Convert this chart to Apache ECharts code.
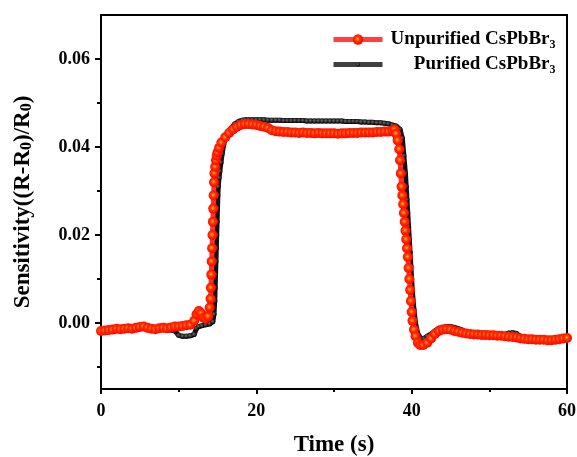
<!DOCTYPE html>
<html>
<head>
<meta charset="utf-8">
<script src="https://cdn.jsdelivr.net/npm/echarts@6/dist/echarts.min.js"></script>
<style>html,body{margin:0;padding:0;background:#fff;}#c{width:577px;height:457px;}</style>
</head>
<body>
<div id="c"></div>
<script>
// Unpurified CsPbBr3 (red)
const redT = [0,0.5,1,1.5,2,2.5,3,3.5,4,4.5,5,5.5,6,6.5,7,7.5,8,8.5,9,9.5,10,10.5,11,11.5,12,12.3,12.6,12.9,13.2,13.5,13.8,14.0,14.1,14.15,14.2,14.25,14.3,14.35,14.4,14.45,14.5,14.55,14.6,14.7,14.8,14.9,15.0,15.2,15.5,16,16.5,17,17.5,18,18.5,19,19.5,20,20.5,21,21.5,22,22.5,23,23.5,24,24.5,25,25.5,26,26.5,27,27.5,28,28.5,29,29.5,30,30.5,31,31.5,32,32.5,33,33.5,34,34.5,35,35.5,36,36.5,37,37.5,37.8,38.0,38.2,38.4,38.5,38.6,38.7,38.8,38.9,39.0,39.1,39.2,39.3,39.4,39.5,39.6,39.7,39.8,39.9,40.0,40.1,40.3,40.5,40.8,41.1,41.5,42,42.5,43,43.5,44,44.5,45,45.5,46,46.5,47,47.5,48,48.5,49,49.5,50,50.5,51,51.5,52,52.5,53,53.5,54,54.5,55,55.5,56,56.5,57,57.5,58,58.5,59,59.5,60];
const redV = [-0.0018,-0.0017,-0.0016,-0.0015,-0.0013,-0.0014,-0.0013,-0.0012,-0.0013,-0.0011,-0.0009,-0.0008,-0.0011,-0.0013,-0.0014,-0.0012,-0.0011,-0.0012,-0.0010,-0.0008,-0.0008,-0.0007,-0.0005,-0.0004,0.0005,0.0020,0.0027,0.0022,0.0012,0.0010,0.0015,0.0035,0.0055,0.0080,0.0110,0.0140,0.0170,0.0200,0.0230,0.0260,0.0290,0.0320,0.0340,0.0355,0.0370,0.0380,0.0388,0.0398,0.0410,0.0422,0.0432,0.0440,0.0446,0.0450,0.0452,0.0452,0.0451,0.0450,0.0448,0.0446,0.0443,0.0438,0.0436,0.0435,0.0434,0.0434,0.0433,0.0433,0.0432,0.0433,0.0432,0.0432,0.0431,0.0432,0.0431,0.0431,0.0431,0.0431,0.0430,0.0431,0.0431,0.0432,0.0432,0.0432,0.0433,0.0433,0.0433,0.0433,0.0434,0.0434,0.0435,0.0435,0.0437,0.0440,0.0430,0.0415,0.0395,0.0370,0.0340,0.0310,0.0290,0.0270,0.0250,0.0230,0.0210,0.0190,0.0170,0.0150,0.0125,0.0100,0.0075,0.0050,0.0025,0.0005,-0.0015,-0.0030,-0.0045,-0.0050,-0.0050,-0.0045,-0.0035,-0.0025,-0.0018,-0.0015,-0.0014,-0.0015,-0.0018,-0.0020,-0.0022,-0.0024,-0.0025,-0.0026,-0.0026,-0.0027,-0.0027,-0.0028,-0.0028,-0.0029,-0.0029,-0.0030,-0.0031,-0.0032,-0.0033,-0.0035,-0.0036,-0.0037,-0.0037,-0.0038,-0.0038,-0.0038,-0.0039,-0.0039,-0.0038,-0.0037,-0.0035,-0.0034];
// Purified CsPbBr3 (black)
const blackT = [0,0.5,1,1.5,2,2.5,3,3.5,4,4.5,5,5.5,6,6.5,7,7.5,8,8.5,9,9.5,10,10.5,11,11.5,12,12.3,12.6,13,13.5,14,14.4,14.55,14.65,14.7,14.75,14.8,14.85,14.9,14.95,15.0,15.05,15.1,15.2,15.3,15.45,15.6,15.8,16.0,16.3,16.7,17.2,17.7,18.2,18.6,19,19.5,20,20.5,21,21.5,22,22.5,23,23.5,24,24.5,25,25.5,26,26.5,27,27.5,28,28.5,29,29.5,30,30.5,31,31.5,32,32.5,33,33.5,34,34.5,35,35.5,36,36.5,37,37.5,38,38.5,38.8,39.0,39.2,39.3,39.4,39.5,39.6,39.7,39.8,39.9,40.0,40.1,40.3,40.5,40.8,41.2,41.6,42,42.5,43,43.5,44,44.5,45,45.5,46,46.5,47,47.5,48,48.5,49,49.5,50,50.5,51,51.5,52,52.5,53,53.5,54,54.5,55,55.5,56,56.5,57,57.5,58,58.5,59,59.5,60];
const blackV = [-0.0015,-0.0014,-0.0013,-0.0013,-0.0012,-0.0013,-0.0013,-0.0014,-0.0014,-0.0012,-0.0011,-0.0012,-0.0013,-0.0015,-0.0016,-0.0015,-0.0015,-0.0016,-0.0016,-0.0018,-0.0028,-0.0030,-0.0030,-0.0029,-0.0026,-0.0012,-0.0008,-0.0006,-0.0004,-0.0002,0.0003,0.0020,0.0050,0.0080,0.0110,0.0140,0.0170,0.0200,0.0230,0.0260,0.0290,0.0310,0.0330,0.0345,0.0365,0.0385,0.0405,0.0420,0.0432,0.0442,0.0452,0.0458,0.0461,0.0462,0.0462,0.0462,0.0462,0.0462,0.0462,0.0461,0.0461,0.0461,0.0461,0.0460,0.0460,0.0460,0.0460,0.0460,0.0460,0.0459,0.0459,0.0459,0.0459,0.0459,0.0459,0.0459,0.0459,0.0459,0.0459,0.0458,0.0458,0.0458,0.0458,0.0457,0.0457,0.0456,0.0456,0.0455,0.0455,0.0454,0.0453,0.0450,0.0448,0.0440,0.0420,0.0380,0.0340,0.0310,0.0280,0.0250,0.0220,0.0190,0.0160,0.0130,0.0100,0.0070,0.0030,0.0000,-0.0025,-0.0035,-0.0035,-0.0030,-0.0025,-0.0018,-0.0012,-0.0010,-0.0008,-0.0008,-0.0010,-0.0013,-0.0016,-0.0020,-0.0022,-0.0024,-0.0025,-0.0026,-0.0027,-0.0027,-0.0027,-0.0027,-0.0027,-0.0026,-0.0023,-0.0022,-0.0024,-0.0030,-0.0032,-0.0034,-0.0035,-0.0036,-0.0037,-0.0037,-0.0038,-0.0038,-0.0038,-0.0037,-0.0036,-0.0035];
const xTicks = [0, 20, 40, 60];
const yLabels = [0, 0.02, 0.04, 0.06];
const yMinor = [-0.01, 0.01, 0.03, 0.05];

const FF = '"Liberation Serif","Times New Roman",serif';
const redData = redT.map((t, i) => [t, redV[i]]);
const blackData = blackT.map((t, i) => [t, blackV[i]]);

const redFill = new echarts.graphic.RadialGradient(0.45, 0.45, 0.55, [
  {offset: 0, color: '#ffb030'}, {offset: 0.45, color: '#ff3000'}, {offset: 1, color: '#ff0000'}]);
const blackFill = new echarts.graphic.RadialGradient(0.4, 0.4, 0.6, [
  {offset: 0, color: '#6a6a6a'}, {offset: 1, color: '#000'}]);

const chart = echarts.init(document.getElementById('c'), null, {renderer: 'canvas'});
const subRich = {
  b: {fontFamily: FF, fontWeight: 'bold', fontSize: 19, color: '#000', align: 'right'},
  s: {fontFamily: FF, fontWeight: 'bold', fontSize: 12, color: '#000', padding: [11, 0, 0, 0], align: 'right'}
};
const legendBase = {
  orient: 'vertical', left: 331, padding: 0,
  itemWidth: 49, itemGap: 5,
  formatter: function (n) { return '{b|' + n.slice(0, -1) + '}{s|3}'; },
  textStyle: {width: 168, align: 'right', rich: subRich}
};
chart.setOption({
  animation: false,
  backgroundColor: '#fff',
  grid: {left: 101, right: 10, top: 15, bottom: 68, show: true, borderColor: '#000', borderWidth: 2,
    containLabel: false, outerBoundsMode: 'none'},
  legend: [
    Object.assign({}, legendBase, {top: 30, itemHeight: 13, data: ['Unpurified CsPbBr3'],
      lineStyle: {width: 5, color: '#ff4040'}}),
    Object.assign({}, legendBase, {top: 55, itemHeight: 5, data: ['Purified CsPbBr3'],
      lineStyle: {width: 5, color: '#404040'}})
  ],
  xAxis: {
    type: 'value', min: 0, max: 60, interval: 20,
    name: 'Time (s)', nameLocation: 'middle', nameGap: 45,
    nameTextStyle: {fontFamily: FF, fontWeight: 'bold', fontSize: 23, color: '#000'},
    axisLine: {show: true, onZero: false, lineStyle: {color: '#000', width: 2}},
    axisTick: {show: true, inside: false, length: 5, lineStyle: {color: '#000', width: 2}},
    minorTick: {show: true, splitNumber: 2, length: 3, lineStyle: {color: '#000', width: 2}},
    axisLabel: {fontFamily: FF, fontWeight: 'bold', fontSize: 18, color: '#000', margin: 13,
      customValues: xTicks},
    splitLine: {show: false}
  },
  yAxis: [{
    type: 'value', min: -0.015, max: 0.07,
    name: '{a|Sensitivity((R-R}{s|0}{a|)/R}{s|0}{a|)}', nameLocation: 'middle', nameGap: 66,
    nameTextStyle: {rich: {
      a: {fontFamily: FF, fontWeight: 'bold', fontSize: 23, color: '#000'},
      s: {fontFamily: FF, fontWeight: 'bold', fontSize: 16, color: '#000', padding: [8, 0, 0, 0]}
    }},
    axisLine: {show: true, onZero: false, lineStyle: {color: '#000', width: 2}},
    axisTick: {show: true, length: 6, customValues: yLabels, lineStyle: {color: '#000', width: 2}},
    axisLabel: {fontFamily: FF, fontWeight: 'bold', fontSize: 18, color: '#000', margin: 11,
      customValues: yLabels, formatter: v => v.toFixed(2)},
    splitLine: {show: false}
  }, {
    type: 'value', min: -0.015, max: 0.07, position: 'left',
    axisLine: {show: false},
    axisTick: {show: true, length: 4, customValues: yMinor, lineStyle: {color: '#000', width: 2}},
    axisLabel: {show: false},
    splitLine: {show: false}
  }],
  series: [{
    name: 'Purified CsPbBr3', type: 'line', data: blackData, yAxisIndex: 0,
    showSymbol: true, symbol: 'circle', symbolSize: 5,
    lineStyle: {color: '#111', width: 5},
    itemStyle: {color: blackFill},
    z: 2
  }, {
    name: 'Unpurified CsPbBr3', type: 'line', data: redData, yAxisIndex: 0,
    showSymbol: true, symbol: 'circle', symbolSize: 10,
    lineStyle: {color: '#ff3030', width: 5},
    itemStyle: {color: redFill},
    z: 3
  }]
});
</script>
</body>
</html>
